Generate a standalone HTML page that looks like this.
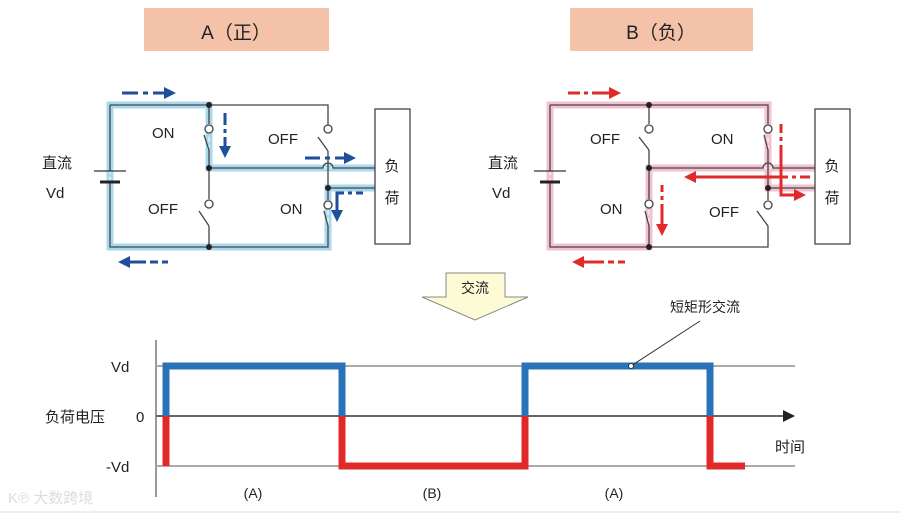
<!DOCTYPE html>
<html><head><meta charset="utf-8"><style>
body{margin:0;background:#fff;width:900px;height:516px;overflow:hidden}
svg text{font-family:"Liberation Sans","Noto Sans CJK SC",sans-serif;fill:#222}
</style></head><body>
<svg width="900" height="516" viewBox="0 0 900 516" xmlns="http://www.w3.org/2000/svg">
<defs>
<marker id="bh" markerWidth="4" markerHeight="4" refX="2" refY="2" orient="auto" markerUnits="strokeWidth"><path d="M0,0L4,2L0,4z" fill="#1f4e9a"/></marker>
<marker id="rh" markerWidth="4" markerHeight="4" refX="2" refY="2" orient="auto" markerUnits="strokeWidth"><path d="M0,0L4,2L0,4z" fill="#e02a2a"/></marker>
</defs>
<!-- titles -->
<rect x="144" y="8" width="185" height="43" fill="#f3c2a8"/>
<text x="236" y="39" font-size="19" text-anchor="middle">A（正）</text>
<rect x="570" y="8" width="183" height="43" fill="#f3c2a8"/>
<text x="661" y="39" font-size="19" text-anchor="middle">B（负）</text>

<!-- LEFT circuit highlight -->
<g fill="none" stroke-linejoin="miter">
<path d="M375,168H209V105H110V247H328V188H375" stroke="#a9d8ee" stroke-width="7"/>
<path d="M375,168H209V105H110V247H328V188H375" stroke="#fff" stroke-width="1" stroke-dasharray="5,3"/>
</g>
<g stroke="#444" stroke-width="1.3" fill="none">
<path d="M110,105H328V129"/><path d="M110,105V171M110,182V247H328V226"/>
<path d="M209,105V124M209,150V199M209,226V247"/>
<path d="M209,168H323a5,5 0 0 1 10,0H375"/>
<path d="M328,151V200M328,188H375"/>
<line x1="204" y1="135" x2="209" y2="150"/><line x1="199" y1="211" x2="209" y2="226"/>
<line x1="318" y1="137" x2="328" y2="151"/><line x1="324" y1="211" x2="328" y2="226"/>
<circle cx="209" cy="129" r="4" fill="#fff"/><circle cx="209" cy="204" r="4" fill="#fff"/>
<circle cx="328" cy="129" r="4" fill="#fff"/><circle cx="328" cy="205" r="4" fill="#fff"/>
<rect x="375" y="109" width="35" height="135" fill="#fff"/>
</g>
<line x1="94" y1="171" x2="126" y2="171" stroke="#333" stroke-width="1.3"/>
<line x1="100" y1="182" x2="120" y2="182" stroke="#222" stroke-width="3"/>
<g fill="#222"><circle cx="209" cy="105" r="3"/><circle cx="209" cy="168" r="3"/><circle cx="209" cy="247" r="3"/><circle cx="328" cy="188" r="3"/></g>
<text x="152" y="138" font-size="15">ON</text><text x="268" y="144" font-size="15">OFF</text>
<text x="148" y="214" font-size="15">OFF</text><text x="280" y="214" font-size="15">ON</text>
<text x="392" y="171" font-size="15" text-anchor="middle">负</text><text x="392" y="203" font-size="15" text-anchor="middle">荷</text>
<text x="42" y="168" font-size="15">直流</text><text x="46" y="198" font-size="15">Vd</text>
<!-- blue arrows -->
<g stroke="#1f4e9a" stroke-width="3" fill="none">
<path d="M122,93H138M143,93H148" /><path d="M153,93H170" marker-end="url(#bh)"/>
<path d="M225,113V125M225,129V133"/><path d="M225,137V152" marker-end="url(#bh)"/>
<path d="M305,158H320M325,158H330"/><path d="M335,158H350" marker-end="url(#bh)"/>
<path d="M363,193H356M352,193H348"/><path d="M344,193H337V216" marker-end="url(#bh)"/>
<path d="M168,262H162M158,262H150"/><path d="M146,262H124" marker-end="url(#bh)"/>
</g>

<!-- RIGHT circuit highlight -->
<g fill="none">
<path d="M815,168H649V247H550V105H768V188H815" stroke="#f2c2d2" stroke-width="7"/>
<path d="M815,168H649V247H550V105H768V188H815" stroke="#fff" stroke-width="1" stroke-dasharray="5,3"/>
</g>
<g stroke="#444" stroke-width="1.3" fill="none">
<path d="M550,105H768V124"/><path d="M550,105V171M550,182V247H768V226"/>
<path d="M649,105V124M649,150V199M649,226V247"/>
<path d="M649,168H763a5,5 0 0 1 10,0H815"/>
<path d="M768,150V200M768,188H815"/>
<line x1="639" y1="137" x2="649" y2="150"/><line x1="645" y1="211" x2="649" y2="226"/>
<line x1="764" y1="135" x2="768" y2="150"/><line x1="757" y1="211" x2="768" y2="226"/>
<circle cx="649" cy="129" r="4" fill="#fff"/><circle cx="649" cy="204" r="4" fill="#fff"/>
<circle cx="768" cy="129" r="4" fill="#fff"/><circle cx="768" cy="205" r="4" fill="#fff"/>
<rect x="815" y="109" width="35" height="135" fill="#fff"/>
</g>
<line x1="534" y1="171" x2="566" y2="171" stroke="#333" stroke-width="1.3"/>
<line x1="540" y1="182" x2="560" y2="182" stroke="#222" stroke-width="3"/>
<g fill="#222"><circle cx="649" cy="105" r="3"/><circle cx="649" cy="168" r="3"/><circle cx="649" cy="247" r="3"/><circle cx="768" cy="188" r="3"/></g>
<text x="590" y="144" font-size="15">OFF</text><text x="711" y="144" font-size="15">ON</text>
<text x="600" y="214" font-size="15">ON</text><text x="709" y="217" font-size="15">OFF</text>
<text x="832" y="171" font-size="15" text-anchor="middle">负</text><text x="832" y="203" font-size="15" text-anchor="middle">荷</text>
<text x="488" y="168" font-size="15">直流</text><text x="492" y="198" font-size="15">Vd</text>
<g stroke="#e02a2a" stroke-width="3" fill="none">
<path d="M568,93H580M584,93H588"/><path d="M592,93H615" marker-end="url(#rh)"/>
<path d="M662,185V192M662,196V200"/><path d="M662,204V230" marker-end="url(#rh)"/>
<path d="M810,177H800M796,177H792"/><path d="M788,177H690" marker-end="url(#rh)"/>
<path d="M781,124V133M781,137V141"/><path d="M781,145V195H800" marker-end="url(#rh)"/>
<path d="M625,262H618M614,262H608"/><path d="M604,262H578" marker-end="url(#rh)"/>
</g>

<!-- block arrow -->
<path d="M446,273H505V297H528L475,320L422,297H446Z" fill="#fdfbd6" stroke="#888" stroke-width="1"/>
<text x="475" y="293" font-size="14" text-anchor="middle">交流</text>

<!-- chart -->
<line x1="156" y1="340" x2="156" y2="497" stroke="#333" stroke-width="1"/>
<g stroke="#aaa" stroke-width="2"><line x1="156" y1="366" x2="795" y2="366"/><line x1="156" y1="466" x2="795" y2="466"/></g>
<line x1="156" y1="416" x2="785" y2="416" stroke="#666" stroke-width="2"/>
<path d="M783,410L795,416L783,422Z" fill="#222"/>
<g fill="none" stroke-width="7" stroke-linejoin="miter">
<path d="M166,416V366H342V416" stroke="#2a73b8"/>
<path d="M525,416V366H710V416" stroke="#2a73b8"/>
<path d="M166,416V466" stroke="#e02a2a"/>
<path d="M342,416V466H525V416" stroke="#e02a2a"/>
<path d="M710,416V466H745" stroke="#e02a2a"/>
</g>
<line x1="700" y1="321" x2="631" y2="366" stroke="#333" stroke-width="1"/>
<circle cx="631" cy="366" r="2.5" fill="#fff" stroke="#333"/>
<text x="670" y="312" font-size="14">短矩形交流</text>
<text x="111" y="372" font-size="15">Vd</text>
<text x="45" y="422" font-size="15">负荷电压</text>
<text x="136" y="422" font-size="15">0</text>
<text x="106" y="472" font-size="15">-Vd</text>
<text x="775" y="452" font-size="15">时间</text>
<text x="253" y="498" font-size="14" text-anchor="middle">(A)</text>
<text x="432" y="498" font-size="14" text-anchor="middle">(B)</text>
<text x="614" y="498" font-size="14" text-anchor="middle">(A)</text>
<text x="8" y="503" font-size="15" style="fill:#ddd">K℗ 大数跨境</text>
<line x1="0" y1="512" x2="900" y2="512" stroke="#ddd" stroke-width="1"/>
</svg>
</body></html>
